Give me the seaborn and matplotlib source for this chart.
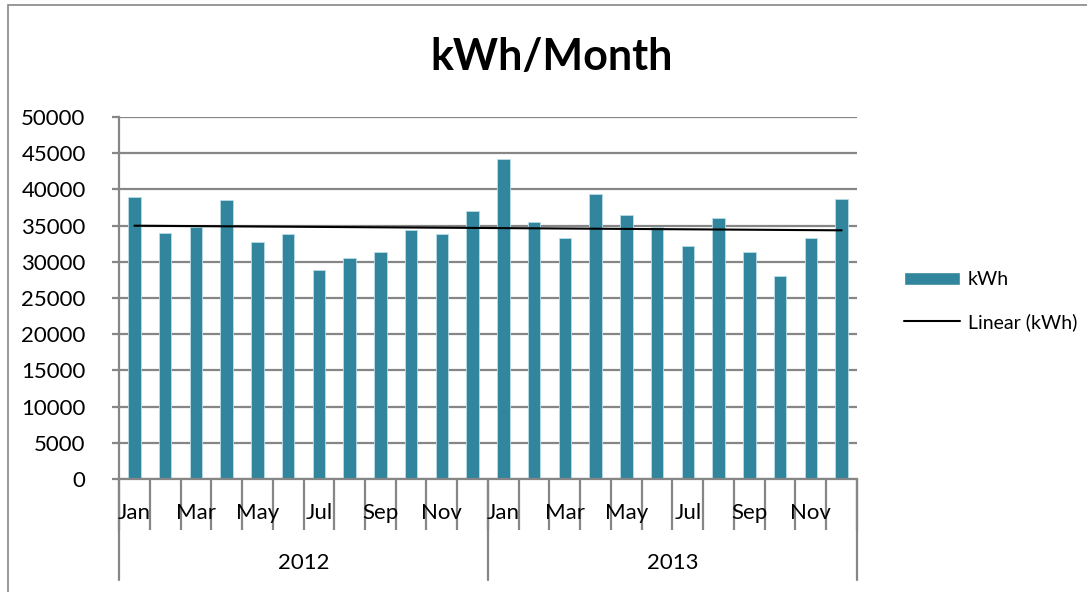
import numpy as np
import pandas as pd
import matplotlib
matplotlib.use("Agg")
import matplotlib.pyplot as plt
import seaborn as sns
from matplotlib.patches import Rectangle
import matplotlib.transforms as mtransforms

months = ["Jan", "Feb", "Mar", "Apr", "May", "Jun", "Jul", "Aug", "Sep", "Oct", "Nov", "Dec"]
years = ["2012", "2013"]
kwh_2012 = [38900, 34000, 34800, 38600, 32800, 33900, 28800, 30500, 31400, 34400, 33800, 37000]
kwh_2013 = [44200, 35500, 33300, 39300, 36400, 34800, 32200, 36000, 31400, 28000, 33300, 38700]
shown_months = ["Jan", "Mar", "May", "Jul", "Sep", "Nov"]
y_ticks = [0, 5000, 10000, 15000, 20000, 25000, 30000, 35000, 40000, 45000, 50000]

df = pd.DataFrame({
    "year": [y for y in years for _ in months],
    "month": months * 2,
    "kwh": kwh_2012 + kwh_2013,
})
df["cat"] = df["year"] + "-" + df["month"]
df["idx"] = np.arange(len(df))

sns.set_theme(style="white")
plt.rcParams["font.family"] = ["Lato", "DejaVu Sans"]
plt.rcParams["text.color"] = "black"
plt.rcParams["ytick.labelcolor"] = "black"

W, H = 1087, 592
fig = plt.figure(figsize=(W / 100, H / 100), dpi=100)
L, R, T, B = 119, 857, 117, 479
ax = fig.add_axes([L / W, 1 - B / H, (R - L) / W, (B - T) / H])

bar_color = "#31859C"
grid_color = "#868686"

sns.barplot(data=df, x="cat", y="kwh", color=bar_color, width=0.4, errorbar=None,
            saturation=1, ax=ax, edgecolor="#b7dde8", linewidth=0.6)
sns.regplot(data=df, x="idx", y="kwh", scatter=False, ci=None, ax=ax,
            line_kws={"color": "black", "linewidth": 1.5})
trend_line = ax.lines[-1]

ax.set_xlim(-0.5, len(df) - 0.5)
ax.set_ylim(0, 50000)
ax.set_yticks(y_ticks)
ax.set_yticklabels([str(v) for v in y_ticks], fontsize=16)
ax.set_xlabel("")
ax.set_ylabel("")
ax.yaxis.grid(True, color=grid_color, linewidth=1.6)
ax.set_axisbelow(True)
for s in ["top", "right"]:
    ax.spines[s].set_visible(False)
for s in ["left", "bottom"]:
    ax.spines[s].set_color(grid_color)
    ax.spines[s].set_linewidth(1.6)
ax.tick_params(axis="y", left=True, length=5, width=1.6, color=grid_color, pad=19, labelcolor="black")

# x ticks at category boundaries
bounds = np.arange(-0.5, len(df), 1.0)
ax.set_xticks(bounds)
ax.set_xticklabels([])
ax.tick_params(axis="x", bottom=True, length=51 * 0.72, width=1.6, color=grid_color)

trans = mtransforms.blended_transform_factory(ax.transData, ax.transAxes)
for i, row in df.iterrows():
    if row["month"] in shown_months:
        ax.text(row["idx"], -34 / (B - T), row["month"], transform=trans,
                ha="center", va="center", fontsize=16, color="black")
for k, yr in enumerate(years):
    ax.text(k * 12 + 5.5, -84 / (B - T), yr, transform=trans,
            ha="center", va="center", fontsize=16, color="black")
for xb in [-0.5, 11.5, 23.5]:
    ax.plot([xb, xb], [0, -101 / (B - T)], transform=trans, color=grid_color,
            linewidth=1.6, clip_on=False)

fig.suptitle("kWh/Month", x=552 / W, y=1 - 57 / H, va="center",
             fontsize=31, fontweight="bold", color="black")

bar_handle = Rectangle((0, 0), 1, 1, facecolor=bar_color)
leg = ax.legend([bar_handle, trend_line], ["kWh", "Linear (kWh)"],
                loc="center left", bbox_to_anchor=(886 / W, 1 - 301 / H),
                bbox_transform=fig.transFigure, frameon=False, fontsize=14,
                handlelength=2.9, handleheight=0.65, labelspacing=1.3, handletextpad=0.4)

fig.patches.append(Rectangle((8 / W, -0.1), 1.2, 1 - 5 / H + 0.1, transform=fig.transFigure,
                             fill=False, edgecolor=grid_color, linewidth=1.2))

fig.savefig("out.png", dpi=100)
